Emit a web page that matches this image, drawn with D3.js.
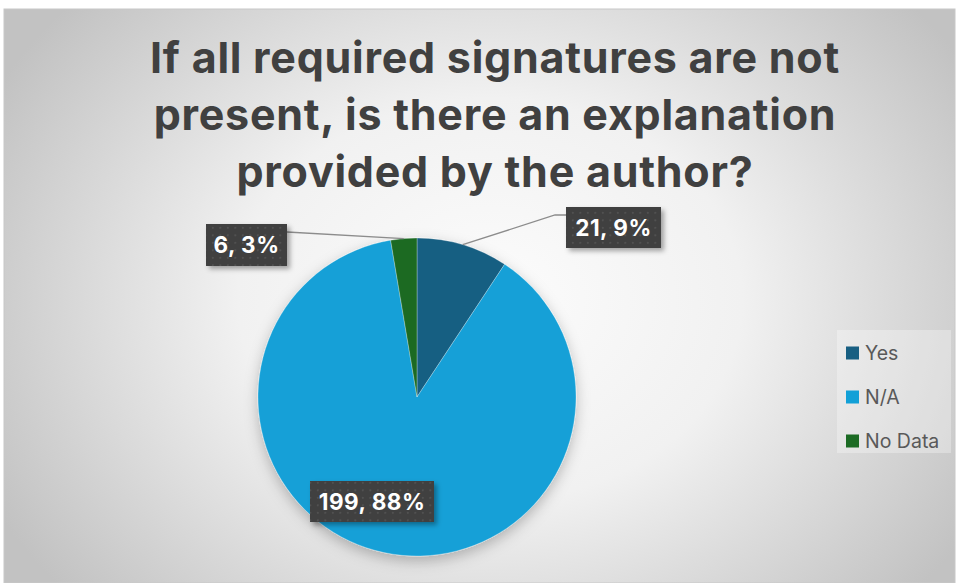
<!DOCTYPE html>
<html><head><meta charset="utf-8">
<script src="https://cdn.jsdelivr.net/npm/d3@7"></script>
<style>html,body{margin:0;padding:0;background:#fff;}svg{display:block;}</style>
</head><body>
<svg id="chart" width="959" height="583"></svg>
<script>
const categories = ["Yes", "N/A", "No Data"];
const values = [21, 199, 6];
const percentLabels = ["9%", "88%", "3%"];
const colors = ["#185f82", "#12a0d7", "#1c6b24"];
const titleLines = ["If all required signatures are not", "present, is there an explanation", "provided by the author?"];

const W = 959, H = 583;
const svg = d3.select("#chart");
const defs = svg.append("defs");

const bg = defs.append("radialGradient").attr("id","bg")
  .attr("gradientUnits","userSpaceOnUse").attr("cx",490).attr("cy",300).attr("r",560)
  .attr("gradientTransform","translate(490,300) scale(1,0.8) translate(-490,-300)");
bg.append("stop").attr("offset","0%").attr("stop-color","#fcfcfc");
bg.append("stop").attr("offset","45%").attr("stop-color","#f1f1f1");
bg.append("stop").attr("offset","100%").attr("stop-color","#c2c2c2");

const pat = defs.append("pattern").attr("id","dots").attr("patternUnits","userSpaceOnUse")
  .attr("width",7.5).attr("height",7.5);
pat.append("rect").attr("width",7.5).attr("height",7.5).attr("fill","#404040");
pat.append("rect").attr("x",2).attr("y",2).attr("width",1.6).attr("height",1.6).attr("fill","#575757");

const sh = defs.append("filter").attr("id","pieShadow").attr("x","-20%").attr("y","-20%").attr("width","140%").attr("height","140%");
sh.append("feDropShadow").attr("dx",0).attr("dy",5).attr("stdDeviation",7).attr("flood-color","#000").attr("flood-opacity",0.25);
const sh2 = defs.append("filter").attr("id","boxShadow").attr("x","-20%").attr("y","-30%").attr("width","150%").attr("height","170%");
sh2.append("feDropShadow").attr("dx",3).attr("dy",3).attr("stdDeviation",2.5).attr("flood-color","#000").attr("flood-opacity",0.35);

// chart area
svg.append("rect").attr("x",4).attr("y",9).attr("width",951).attr("height",574)
  .attr("fill","url(#bg)").attr("stroke","#c8c8c8").attr("stroke-width",1);

// title
const title = svg.append("text").attr("text-anchor","middle")
  .attr("font-family","Inter, 'Open Sans', sans-serif").attr("font-weight",700)
  .attr("font-size",43).attr("letter-spacing",0.75).attr("fill","#404040");
titleLines.forEach((t,i)=>{
  title.append("tspan").attr("x",495).attr("y",73 + i*57).text(t);
});

// pie
const cx = 417, cy = 397, R = 159;
const data = categories.map((c,i)=>({cat:c, value:values[i], pct:percentLabels[i], color:colors[i]}));
const pie = d3.pie().value(d=>d.value).sort(null);
const arcs = pie(data);
const arc = d3.arc().innerRadius(0).outerRadius(R);
const g = svg.append("g").attr("transform",`translate(${cx},${cy})`);
g.append("g").attr("filter","url(#pieShadow)").selectAll("path").data(arcs).join("path")
  .attr("d",arc).attr("fill",d=>d.data.color)
  .attr("stroke","#ffffff").attr("stroke-opacity",0.35).attr("stroke-width",0.8);

// labels (box centers relative to pie center; layout only)
const labelLayout = {
  "Yes":    {dx: 196.5, dy: -169.5, w: 95, h: 41, leader: "elbow"},
  "N/A":    {dx: -45,   dy: 104.5,  w: 124, h: 41, leader: null},
  "No Data":{dx: -170.5,dy: -152,   w: 81, h: 42, leader: "straight"}
};
const outer = d3.arc().innerRadius(R).outerRadius(R);
arcs.forEach(a=>{
  const L = labelLayout[a.data.cat];
  const bx = cx + L.dx - L.w/2, by = cy + L.dy - L.h/2;
  const [px,py] = outer.centroid(a);
  const ax = cx + px, ay = cy + py;
  if (L.leader === "elbow") {
    const ly = by + 8;
    svg.append("path").attr("d",`M${ax},${ay}L${bx-11},${ly}L${bx},${ly}`)
      .attr("fill","none").attr("stroke","#8c8c8c").attr("stroke-width",1.3);
  } else if (L.leader === "straight") {
    const ly = by + 8;
    svg.append("path").attr("d",`M${ax},${ay}L${bx+L.w},${ly}`)
      .attr("fill","none").attr("stroke","#8c8c8c").attr("stroke-width",1.3);
  }
  svg.append("rect").attr("x",bx).attr("y",by).attr("width",L.w).attr("height",L.h)
    .attr("fill","url(#dots)").attr("filter","url(#boxShadow)");
  svg.append("text").attr("x",bx+L.w/2).attr("y",by+L.h/2+8)
    .attr("text-anchor","middle").attr("font-family","Inter, 'Open Sans', sans-serif")
    .attr("font-weight",700).attr("font-size",22.5).attr("letter-spacing",0.5).attr("fill","#ffffff")
    .text(`${a.data.value}, ${a.data.pct}`);
});

// legend
const lg = svg.append("g");
lg.append("rect").attr("x",837).attr("y",330).attr("width",114).attr("height",123)
  .attr("fill","#ffffff").attr("fill-opacity",0.3);
const legendY = d3.scalePoint().domain(categories).range([353, 441]);
categories.forEach((c,i)=>{
  const y = legendY(c);
  lg.append("rect").attr("x",846).attr("y",y-6.5).attr("width",13).attr("height",13).attr("fill",colors[i]);
  lg.append("text").attr("x",865).attr("y",y+7).attr("font-family","Inter, 'Open Sans', sans-serif")
    .attr("font-size",19.5).attr("fill","#595959").text(c);
});
</script>
</body></html>
